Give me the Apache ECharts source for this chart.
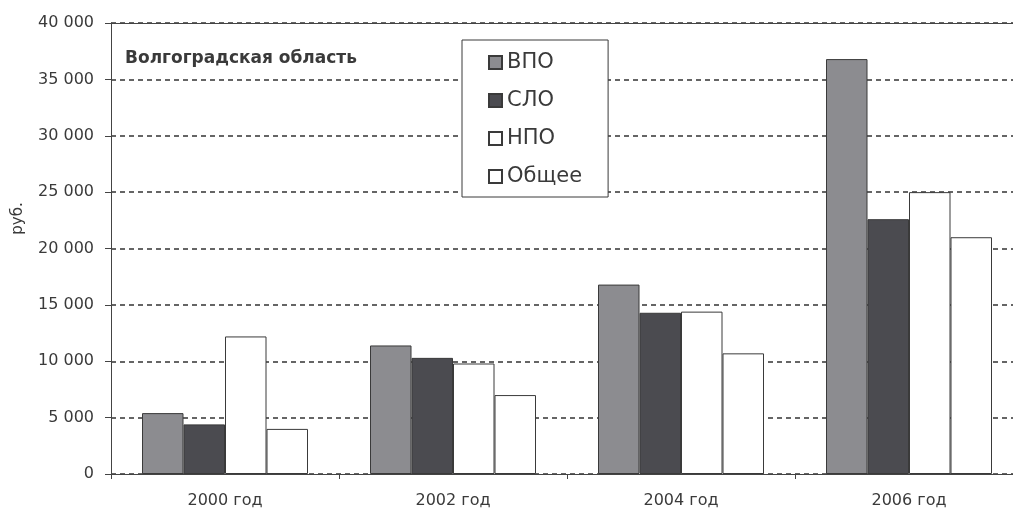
<!DOCTYPE html>
<html>
<head>
<meta charset="utf-8">
<script src="https://cdn.jsdelivr.net/npm/echarts@6/dist/echarts.min.js"></script>
<style>
  html, body { margin: 0; padding: 0; background: #fff; }
  #chart { width: 1013px; height: 511px; }
</style>
</head>
<body>
<div id="chart"></div>
<script>
const categories = ["2000 год", "2002 год", "2004 год", "2006 год"];
const vpo = [5400, 11400, 16800, 36800];
const spo = [4400, 10300, 14300, 22600];
const npo = [12200, 9800, 14400, 25000];
const total = [4000, 7000, 10700, 21000];
const seriesNames = ["ВПО", "СЛО", "НПО", "Общее"];
const yMin = 0;
const yMax = 40000;
const yStep = 5000;

const fontFamily = "'DejaVu Sans', Verdana, sans-serif";
const axisColor = "#444";
const textColor = "#3a3a3a";

// 40000 -> "40 000"
const fmt = (v) => String(v).replace(/\B(?=(\d{3})+(?!\d))/g, " ");

const barStyle = (fill) => ({
  color: fill,
  borderColor: "#3a3a3a",
  borderWidth: 1,
});

const chart = echarts.init(document.getElementById("chart"));
chart.setOption({
  backgroundColor: "#fff",
  animation: false,
  textStyle: { fontFamily },
  title: {
    text: "Волгоградская область",
    left: 120,
    top: 45,
    textStyle: { fontFamily, fontSize: 17, fontWeight: "bold", color: textColor },
  },
  legend: {
    orient: "vertical",
    left: 462,
    top: 40,
    padding: [12, 26, 10, 26],
    itemGap: 17,
    itemWidth: 13,
    itemHeight: 13,
    icon: "rect",
    backgroundColor: "#fff",
    borderColor: "#3a3a3a",
    borderWidth: 1,
    textStyle: { fontFamily, fontSize: 21, color: textColor },
    data: seriesNames,
  },
  grid: {
    left: 111,
    top: 23,
    width: 912,
    height: 451,
    outerBoundsMode: "none",
  },
  xAxis: [
    {
      type: "category",
      data: categories,
      z: 3,
      axisLine: { lineStyle: { color: axisColor, width: 1.2 } },
      axisTick: { show: true, length: 5, lineStyle: { color: axisColor } },
      axisLabel: { color: textColor, fontSize: 16, margin: 19 },
    },
    {
      type: "category",
      position: "top",
      data: categories,
      z: 3,
      axisLine: { show: true, lineStyle: { color: axisColor, width: 1.2 } },
      axisTick: { show: false },
      axisLabel: { show: false },
    },
  ],
  yAxis: {
    type: "value",
    min: yMin,
    max: yMax,
    interval: yStep,
    name: "руб.",
    nameLocation: "middle",
    nameGap: 85,
    nameTextStyle: { fontSize: 15, color: textColor, padding: [0, 0, 0, 60] },
    axisLine: { show: true, lineStyle: { color: axisColor, width: 1 } },
    axisTick: { show: true, length: 6, lineStyle: { color: axisColor } },
    axisLabel: { color: textColor, fontSize: 16, margin: 17, formatter: fmt },
    splitLine: {
      show: true,
      lineStyle: { color: "#333", width: 1.5, type: [5, 4] },
    },
  },
  series: [
    { name: seriesNames[0], type: "bar", data: vpo, barWidth: 41.5, barGap: "0%", itemStyle: barStyle("#8c8c90") },
    { name: seriesNames[1], type: "bar", data: spo, barWidth: 41.5, barGap: "0%", itemStyle: barStyle("#4b4b50") },
    { name: seriesNames[2], type: "bar", data: npo, barWidth: 41.5, barGap: "0%", itemStyle: barStyle("#ffffff") },
    { name: seriesNames[3], type: "bar", data: total, barWidth: 41.5, barGap: "0%", itemStyle: barStyle("#ffffff") },
  ],
});
</script>
</body>
</html>
